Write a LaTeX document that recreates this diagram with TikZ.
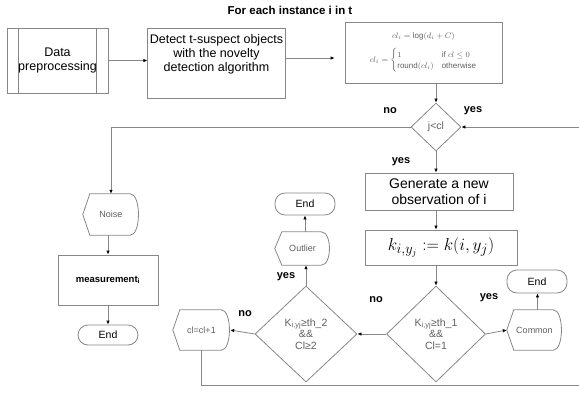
\documentclass[tikz,border=0pt]{standalone}
\usepackage{amsmath,amssymb}
\usepackage{fontspec}
\setmainfont{Liberation Sans}
\usetikzlibrary{arrows.meta,positioning,shapes.geometric}
\definecolor{linegray}{RGB}{135,135,135}
\definecolor{txtgray}{RGB}{95,95,95}
\tikzset{
    box/.style={draw=linegray, line width=0.8pt, align=center, inner sep=2pt, font=\fontsize{12.5}{14}\selectfont}, % 普通方框
    term/.style={draw=linegray, line width=0.8pt, rounded corners=10pt, inner sep=1pt, font=\fontsize{10.5}{12}\selectfont}, % 终止框
    cond/.style={diamond, draw=linegray, line width=0.8pt, align=center, inner sep=0pt, text=txtgray, font=\fontsize{10.5}{11.5}\selectfont}, % 判断框
    disp/.style={inner sep=1pt, text=txtgray, font=\fontsize{9}{10}\selectfont}, % 显示框(外形另画)
    lab/.style={font=\bfseries\fontsize{11}{12}\selectfont}, % yes/no 标注
    arr/.style={draw=linegray, line width=0.8pt, -{Latex[length=4pt,width=3.5pt,color=black]}}
}
\begin{document}
\begin{tikzpicture}[x=1pt, y=-1pt]
    \useasboundingbox (0,0) rectangle (579,392);
    \node[lab, font=\bfseries\fontsize{11.5}{12}\selectfont] (title) at (290,10) {For each instance i in t};

    \node[box, minimum width=101pt, minimum height=65pt] (prep) at (57.5,60.5) {Data\\preprocessing};
    \draw[linegray, line width=0.8pt] ([xshift=12pt]prep.north west) -- ([xshift=12pt]prep.south west)
        ([xshift=-12pt]prep.north east) -- ([xshift=-12pt]prep.south east);
    \node[box, minimum width=137pt, minimum height=70pt] (detect) at (216.5,63) {Detect t-suspect objects\\with the novelty\\detection algorithm\\[6pt]};
    \node[box, minimum width=157pt, minimum height=61pt, text=txtgray, font=\fontsize{8}{9}\selectfont] (formula) at (423.5,52.5)
        {$cl_i = \log(d_i + C)$\\[7pt]
         $cl_i = \begin{cases} 1 & \mathrm{if}\ cl \le 0\\ \mathrm{round}(cl_i) & \mathrm{otherwise}\end{cases}$};

    \node[cond, minimum width=50pt, minimum height=48pt] (jcl) at (436,127) {j<cl};
    \node[box, minimum width=148pt, minimum height=37pt, font=\fontsize{14}{15.5}\selectfont] (gen) at (439,191.5) {Generate a new\\observation of i};
    \node[box, minimum width=152pt, minimum height=35pt, font=\fontsize{19}{20}\selectfont] (kbox) at (441,247.5) {$k_{i,y_j} := k(i, y_j)$};
    \node[cond, minimum width=99pt, minimum height=96pt] (th1) at (436,334) {K\textsubscript{i,yj}≥th\_1\\\&\&\\Cl=1};
    \node[cond, minimum width=102pt, minimum height=96pt] (th2) at (306,334) {K\textsubscript{i,yj}≥th\_2\\\&\&\\Cl≥2};

    \node[disp, minimum width=56pt, minimum height=41pt] (noise) at (111,214.5) {Noise};
    \node[box, minimum width=100pt, minimum height=50pt, font=\bfseries\fontsize{9.5}{10}\selectfont] (meas) at (108,280) {measurement\textsubscript{i}};
    \node[term, minimum width=60pt, minimum height=20pt] (end1) at (108,335) {End};
    \node[disp, minimum width=55pt, minimum height=40pt] (common) at (534.5,330) {Common};
    \node[term, minimum width=60pt, minimum height=23pt] (end3) at (537,281.5) {End};
    \node[disp, minimum width=55pt, minimum height=33pt] (outlier) at (302.5,248.5) {Outlier};
    \node[term, minimum width=60pt, minimum height=22pt] (end2) at (305,204) {End};
    \node[disp, minimum width=57pt, minimum height=40pt] (incr) at (201.5,330) {cl=cl+1};

    % 显示框外形
    \foreach \n in {noise,common,outlier,incr} {
        \draw[linegray, line width=0.8pt] ([xshift=7pt]\n.north west) -- (\n.west) -- ([xshift=7pt]\n.south west)
            -- ([xshift=-9pt]\n.south east) .. controls ([xshift=2pt]\n.south east) and ([xshift=2pt]\n.north east) .. ([xshift=-9pt]\n.north east) -- cycle;
    }

    \coordinate (rin) at (579,127);
    \coordinate (rout) at (579,385);

    \draw[arr] (prep.east) -- (prep.east -| detect.west);
    \draw[arr, shorten >=10pt] (detect.east |- 0,58) -- (formula.west |- 0,58);
    \draw[arr] (jcl.north |- formula.south) -- (jcl.north);
    \draw[arr] (rin) -- (jcl.east);
    \draw[arr] (jcl.west) -- (noise.north |- jcl.west) -- (noise.north);
    \draw[arr] (jcl.south) -- (jcl.south |- gen.north);
    \draw[arr] (gen.south -| jcl.south) -- (kbox.north -| jcl.south);
    \draw[arr] (kbox.south -| th1.north) -- (th1.north);
    \draw[arr] (th1.east) -- (common.west);
    \draw[arr] ([xshift=3pt]common.north) -- ([xshift=3pt]common.north |- end3.south);
    \draw[arr] (th1.west) -- (th2.east);
    \draw[arr] (th2.north) -- (th2.north |- outlier.south);
    \draw[arr] (outlier.north -| end2.south) -- (end2.south);
    \draw[arr] (th2.west) -- (incr.east);
    \draw[linegray, line width=0.8pt] (incr.south) |- (rout);
    \draw[arr] (meas.north |- noise.south) -- (meas.north);
    \draw[arr] (meas.south) -- (end1.north);

    \node[lab] (no1) at (390,111) {no};
    \node[lab] (yes1) at (473,111) {yes};
    \node[lab] (yes2) at (401,162) {yes};
    \node[lab] (yes3) at (489,298) {yes};
    \node[lab] (no2) at (376,300) {no};
    \node[lab] (yes4) at (286,277) {yes};
    \node[lab] (no3) at (245,314) {no};
\end{tikzpicture}
\end{document}
